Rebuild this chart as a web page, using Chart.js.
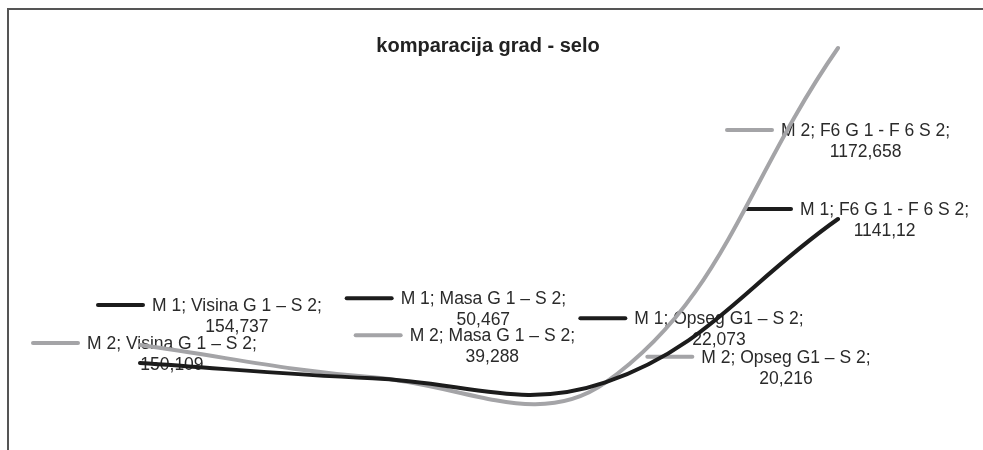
<!DOCTYPE html>
<html>
<head>
<meta charset="utf-8">
<script src="https://cdn.jsdelivr.net/npm/chart.js@4"></script>
<style>
  html, body { margin: 0; padding: 0; background: #fff; }
  #wrap { width: 983px; height: 450px; position: relative; }
</style>
</head>
<body>
<div id="wrap"><canvas id="c" width="983" height="450"></canvas></div>
<script>
// ---- data ----
const categories = ["Visina G 1 – S 2", "Masa G 1 – S 2", "Opseg G1 – S 2", "F6 G 1 - F 6 S 2"];
const seriesNames = ["M 1", "M 2"];
const m1Values = [154.737, 50.467, 22.073, 1141.12];
const m2Values = [150.109, 39.288, 20.216, 1172.658];
const chartTitle = "komparacija grad - selo";

const FONT = '"Liberation Sans", Arial, sans-serif';

// label placement (offsets of legend-key start relative to the point, px)
const labelOffsets = [
  [[-42, -58], [-26, -80], [-25, -64], [-92, -10]],
  [[-107, -2], [-17, -42], [42, -26], [-111, 82]]
];

const framePlugin = {
  id: 'frame',
  beforeDraw(chart) {
    const ctx = chart.ctx;
    ctx.save();
    ctx.fillStyle = '#fff';
    ctx.fillRect(0, 0, chart.width, chart.height);
    ctx.strokeStyle = '#555';
    ctx.lineWidth = 2;
    ctx.beginPath();
    ctx.moveTo(8, 450);
    ctx.lineTo(8, 9);
    ctx.lineTo(983, 9);
    ctx.stroke();
    ctx.fillStyle = '#222';
    ctx.font = 'bold 20px ' + FONT;
    ctx.textAlign = 'center';
    ctx.textBaseline = 'alphabetic';
    ctx.fillText(chartTitle, 488, 52);
    ctx.restore();
  }
};

const labelPlugin = {
  id: 'ptlabels',
  beforeDatasetsDraw(chart) {
    const ctx = chart.ctx;
    ctx.save();
    chart.data.datasets.forEach((ds, di) => {
      const meta = chart.getDatasetMeta(di);
      meta.data.forEach((pt, i) => {
        const off = labelOffsets[di][i];
        const kx = pt.x + off[0], ky = pt.y + off[1];
        ctx.strokeStyle = ds.borderColor;
        ctx.lineWidth = 4;
        ctx.lineCap = 'round';
        ctx.beginPath();
        ctx.moveTo(kx, ky);
        ctx.lineTo(kx + 45, ky);
        ctx.stroke();
        ctx.font = '17.5px ' + FONT;
        ctx.fillStyle = '#2a2a2a';
        ctx.textBaseline = 'middle';
        const line1 = ds.label + '; ' + categories[i] + ';';
        const line2 = String(ds.data[i]).replace('.', ',');
        const w1 = ctx.measureText(line1).width;
        const tx = kx + 54;
        ctx.textAlign = 'left';
        ctx.fillText(line1, tx, ky + 1);
        ctx.textAlign = 'center';
        ctx.fillText(line2, tx + w1 / 2, ky + 22);
      });
    });
    ctx.restore();
  }
};

new Chart(document.getElementById('c'), {
  type: 'line',
  data: {
    labels: categories,
    datasets: [
      { label: seriesNames[0], data: m1Values, borderColor: '#1c1c1c', yAxisID: 'y1' },
      { label: seriesNames[1], data: m2Values, borderColor: '#a4a4a7', yAxisID: 'y2' }
    ]
  },
  options: {
    responsive: false,
    animation: false,
    layout: { padding: { left: 140, right: 145, top: 20, bottom: 5 } },
    elements: {
      line: { tension: 0.4, borderWidth: 4, capBezierPoints: false, borderCapStyle: 'round' },
      point: { radius: 0 }
    },
    plugins: { legend: { display: false }, title: { display: false }, tooltip: { enabled: false } },
    scales: {
      x: { display: false, offset: false },
      y1: { display: false, min: -407.0, max: 2504.2 },
      y2: { display: false, min: -194.2, max: 1269.1 }
    }
  },
  plugins: [framePlugin, labelPlugin]
});
</script>
</body>
</html>
